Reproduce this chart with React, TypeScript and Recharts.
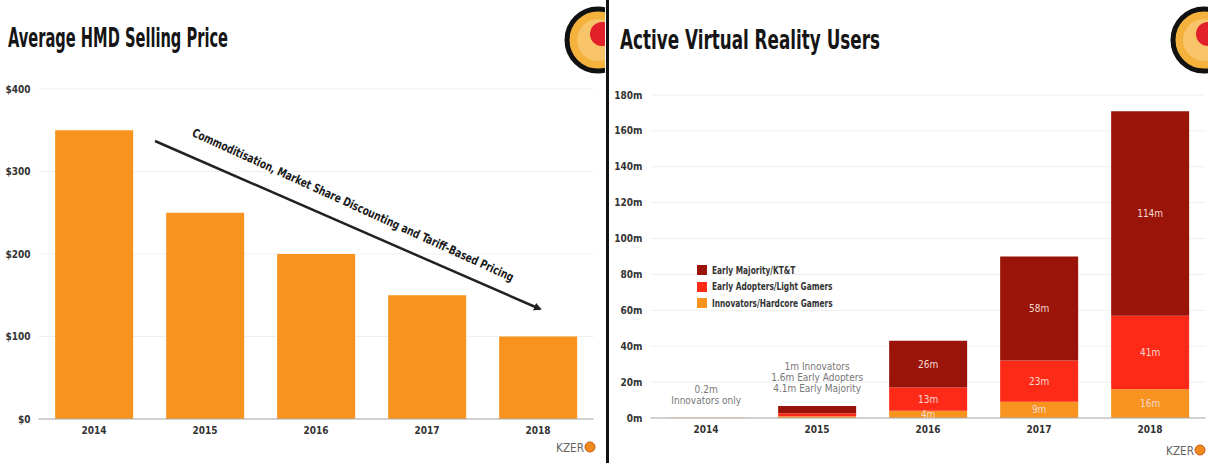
import { BarChart, Bar, XAxis, YAxis, CartesianGrid, LabelList, Legend } from "recharts"

const years = ["2014", "2015", "2016", "2017", "2018"]
const avgPrice = [350, 250, 200, 150, 100]
const priceTicks = [0, 100, 200, 300, 400]

const innovators = [0.2, 1, 4, 9, 16]
const earlyAdopters = [0, 1.6, 13, 23, 41]
const earlyMajority = [0, 4.1, 26, 58, 114]
const userTicks = [0, 20, 40, 60, 80, 100, 120, 140, 160, 180]
const labelledYears = ["2016", "2017", "2018"]
const yearNotes = [
  ["0.2m", "Innovators only"],
  ["1m Innovators", "1.6m Early Adopters", "4.1m Early Majority"],
  [],
  [],
  [],
]

const ORANGE = "#f7931e"
const RED = "#fd2a18"
const DARK_RED = "#9a140a"
const FONT = '"Liberation Sans Narrow", "DejaVu Sans Condensed", "Liberation Sans", sans-serif'

const legendItems = [
  { name: "Early Majority/KT&T", color: DARK_RED },
  { name: "Early Adopters/Light Gamers", color: RED },
  { name: "Innovators/Hardcore Gamers", color: ORANGE },
]

const priceData = years.map((year, i) => ({ year, price: avgPrice[i] }))

const userData = years.map((year, i) => {
  const show = labelledYears.includes(year)
  return {
    year,
    innovators: innovators[i],
    earlyAdopters: earlyAdopters[i],
    earlyMajority: earlyMajority[i],
    innovLbl: show ? `${innovators[i]}m` : "",
    adoptLbl: show ? `${earlyAdopters[i]}m` : "",
    majorLbl: show ? `${earlyMajority[i]}m` : "",
  }
})

const tickStyle = { fontFamily: FONT, fontSize: 10, fontWeight: 700, fill: "#333" }

function InsideLabel(props: any) {
  const { x, y, width, height, value } = props
  if (!value) return null
  return (
    <text
      x={x + width / 2}
      y={y + height / 2}
      textAnchor="middle"
      dominantBaseline="central"
      fontFamily={FONT}
      fontSize={10}
      fill="#f6d9cf"
    >
      {value}
    </text>
  )
}

// drawn from the innovators segment; the stack top is found from that segment's own px-per-unit
function NoteLabel(props: any) {
  const { x, y, width, height, value } = props
  const i = years.indexOf(String(value))
  if (i < 0 || !yearNotes[i].length) return null
  const lines = yearNotes[i]
  const total = innovators[i] + earlyAdopters[i] + earlyMajority[i]
  const pxPerUnit = height / innovators[i]
  const top = y + height - total * pxPerUnit
  const cx = x + width / 2
  return (
    <g>
      {lines.map((line, k) => (
        <text
          key={k}
          x={cx}
          y={top - 17 - (lines.length - 1 - k) * 11}
          textAnchor="middle"
          dominantBaseline="central"
          fontFamily={FONT}
          fontSize={10}
          fill="#777"
        >
          {line}
        </text>
      ))}
    </g>
  )
}

function LegendBox() {
  return (
    <div style={{ fontFamily: FONT, fontSize: 11, fontWeight: 700, color: "#333", textAlign: "left" }}>
      {legendItems.map((it) => (
        <div key={it.name} style={{ display: "flex", alignItems: "center", height: 16.5 }}>
          <span style={{ width: 10, height: 10, background: it.color, marginRight: 5, display: "inline-block", flex: "none" }} />
          <span style={{ display: "inline-block", transform: "scaleX(0.75)", transformOrigin: "left center", whiteSpace: "nowrap" }}>
            {it.name}
          </span>
        </div>
      ))}
    </div>
  )
}

function Logo({ cx, cy }: { cx: number; cy: number }) {
  return (
    <g>
      <circle cx={cx} cy={cy} r={31} fill="#f4b23c" stroke="#111" strokeWidth={5} />
      <circle cx={cx} cy={cy} r={21} fill="#f7c46a" />
      <circle cx={cx + 4} cy={cy - 6} r={12} fill="#e2202a" />
    </g>
  )
}

function Kzero({ x, y }: { x: number; y: number }) {
  return (
    <g>
      <text x={x} y={y} fontFamily={FONT} fontSize={12} fill="#666" textLength={28} lengthAdjust="spacingAndGlyphs">
        KZER
      </text>
      <circle cx={x + 34} cy={y - 5} r={5} fill="#f08a1e" stroke="#c65a10" strokeWidth={1} />
    </g>
  )
}

export default function App() {
  return (
    <div style={{ position: "fixed", left: 0, top: 0, width: 1208, height: 463, background: "#fff", overflow: "hidden" }}>
      <div style={{ position: "absolute", left: 0, top: 0 }}>
        <BarChart width={605} height={463} data={priceData} margin={{ top: 89, right: 11.5, bottom: 14, left: 0 }} barCategoryGap="15%">
          <CartesianGrid vertical={false} stroke="#efefef" />
          <XAxis dataKey="year" height={30} tickLine={false} axisLine={{ stroke: "#aaa" }} tick={tickStyle} />
          <YAxis
            width={38.5}
            domain={[0, 400]}
            ticks={priceTicks}
            tickFormatter={(v: number) => `$${v}`}
            tickLine={false}
            axisLine={false}
            tick={tickStyle}
          />
          <Bar dataKey="price" fill={ORANGE} isAnimationActive={false} />
        </BarChart>
      </div>
      <div style={{ position: "absolute", left: 605, top: 0 }}>
        <BarChart width={603} height={463} data={userData} margin={{ top: 95, right: 2.5, bottom: 15, left: 0 }} barCategoryGap="15%">
          <CartesianGrid vertical={false} stroke="#efefef" />
          <XAxis dataKey="year" height={30} tickLine={false} axisLine={{ stroke: "#aaa" }} tick={tickStyle} />
          <YAxis
            width={45.5}
            domain={[0, 180]}
            ticks={userTicks}
            tickFormatter={(v: number) => `${v}m`}
            tickLine={false}
            axisLine={false}
            tick={tickStyle}
          />
          <Legend
            layout="vertical"
            verticalAlign="middle"
            align="center"
            wrapperStyle={{ left: 92, top: 262, width: 200 }}
            content={() => <LegendBox />}
          />
          <Bar dataKey="innovators" stackId="u" fill={ORANGE} isAnimationActive={false}>
            <LabelList dataKey="innovLbl" content={InsideLabel} />
            <LabelList dataKey="year" content={NoteLabel} />
          </Bar>
          <Bar dataKey="earlyAdopters" stackId="u" fill={RED} isAnimationActive={false}>
            <LabelList dataKey="adoptLbl" content={InsideLabel} />
          </Bar>
          <Bar dataKey="earlyMajority" stackId="u" fill={DARK_RED} isAnimationActive={false}>
            <LabelList dataKey="majorLbl" content={InsideLabel} />
          </Bar>
        </BarChart>
      </div>
      <svg width={1208} height={463} style={{ position: "absolute", left: 0, top: 0, pointerEvents: "none" }}>
        <defs>
          <clipPath id="clipL">
            <rect x={0} y={0} width={605} height={463} />
          </clipPath>
          <clipPath id="clipR">
            <rect x={609} y={0} width={599} height={463} />
          </clipPath>
          <marker id="arrowHead" markerWidth={8} markerHeight={8} refX={6} refY={4} orient="auto" markerUnits="userSpaceOnUse">
            <path d="M0,0 L8,4 L0,8 Z" fill="#222" />
          </marker>
        </defs>
        <text x={8} y={47} fontFamily={FONT} fontWeight={700} fontSize={27} fill="#151515" textLength={220} lengthAdjust="spacingAndGlyphs">
          Average HMD Selling Price
        </text>
        <text x={620} y={49} fontFamily={FONT} fontWeight={700} fontSize={27} fill="#151515" textLength={260} lengthAdjust="spacingAndGlyphs">
          Active Virtual Reality Users
        </text>
        <line x1={155} y1={141} x2={540} y2={309} stroke="#222" strokeWidth={2.5} markerEnd="url(#arrowHead)" />
        <text
          x={353}
          y={205}
          transform="rotate(24.5 353 205)"
          textAnchor="middle"
          dominantBaseline="central"
          fontFamily={FONT}
          fontWeight={700}
          fontSize={12}
          fill="#1a1a1a"
          textLength={352}
          lengthAdjust="spacingAndGlyphs"
        >
          Commoditisation, Market Share Discounting and Tariff-Based Pricing
        </text>
        <g clipPath="url(#clipL)">
          <Logo cx={598} cy={40} />
        </g>
        <g clipPath="url(#clipR)">
          <Logo cx={1204} cy={40} />
        </g>
        <line x1={607.5} y1={0} x2={607.5} y2={463} stroke="#111" strokeWidth={3} />
        <Kzero x={556} y={452} />
        <Kzero x={1166} y={455} />
      </svg>
    </div>
  )
}
